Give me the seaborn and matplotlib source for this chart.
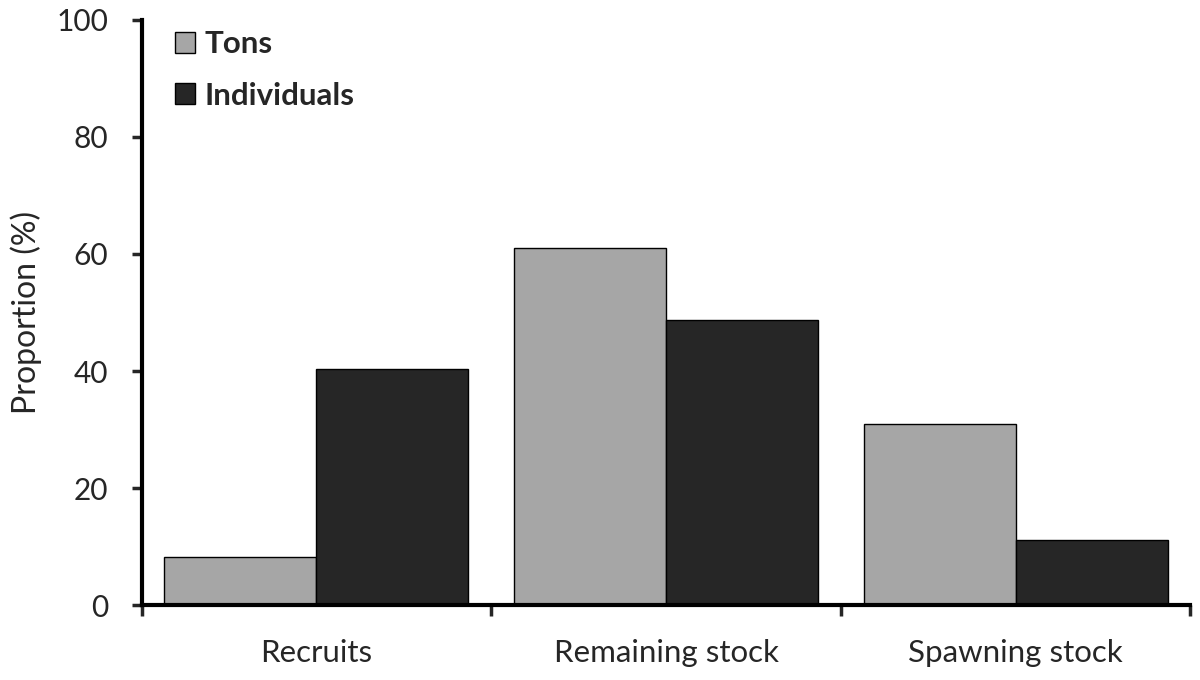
import numpy as np
import pandas as pd
import matplotlib
matplotlib.use('Agg')
import matplotlib.pyplot as plt
import seaborn as sns
from matplotlib.patches import Patch

################################################################
# data:
categories = ['Recruits', 'Remaining stock', 'Spawning stock']
tons = [8.2, 61.0, 30.9]
individuals = [40.3, 48.7, 11.1]
series_names = ['Tons', 'Individuals']
colors = ['#a6a6a6', '#262626']

df = pd.DataFrame({
    'category': categories * 2,
    'value': tons + individuals,
    'series': [series_names[0]] * 3 + [series_names[1]] * 3,
})

################################################################
# plot:
sns.set_style('white')
plt.rcParams['font.family'] = ['Lato', 'DejaVu Sans']

fig = plt.figure(figsize=(12, 6.8), dpi=100)
ax = fig.add_axes([0.118, 0.110, 0.874, 0.861])
sns.barplot(data=df, x='category', y='value', hue='series', palette=colors,
            width=0.87, edgecolor='black', linewidth=1.0, saturation=1,
            ax=ax, legend=False)

ax.set_ylim(0, 100)
ax.set_xlim(-0.5, 2.5)
ax.set_yticks(np.arange(0, 101, 20))
ax.tick_params(axis='y', labelsize=21.5, length=7, width=2.5, direction='out', left=True, pad=17)
ax.tick_params(axis='x', which='major', labelsize=22.5, length=0, pad=24)
ax.set_xticks([-0.5, 0.5, 1.5, 2.5], minor=True)
ax.tick_params(axis='x', which='minor', length=8, width=2.5, direction='out', bottom=True)
ax.set_xlabel('')
ax.set_ylabel('Proportion (%)', fontsize=23, labelpad=12)
ax.yaxis.set_label_coords(-0.095, 0.5)

for side in ['top', 'right']:
    ax.spines[side].set_visible(False)
for side in ['left', 'bottom']:
    ax.spines[side].set_linewidth(3)
    ax.spines[side].set_color('black')

handles = [Patch(facecolor=c, edgecolor='black', linewidth=1.0, label=n)
           for c, n in zip(colors, series_names)]
ax.legend(handles=handles, loc='upper left', bbox_to_anchor=(0.005, 1.03),
          frameon=False, prop={'size': 22.5, 'weight': 'bold'},
          handlelength=0.65, handleheight=0.65, handletextpad=0.3, labelspacing=0.75)

plt.savefig('out.png', dpi=100)
